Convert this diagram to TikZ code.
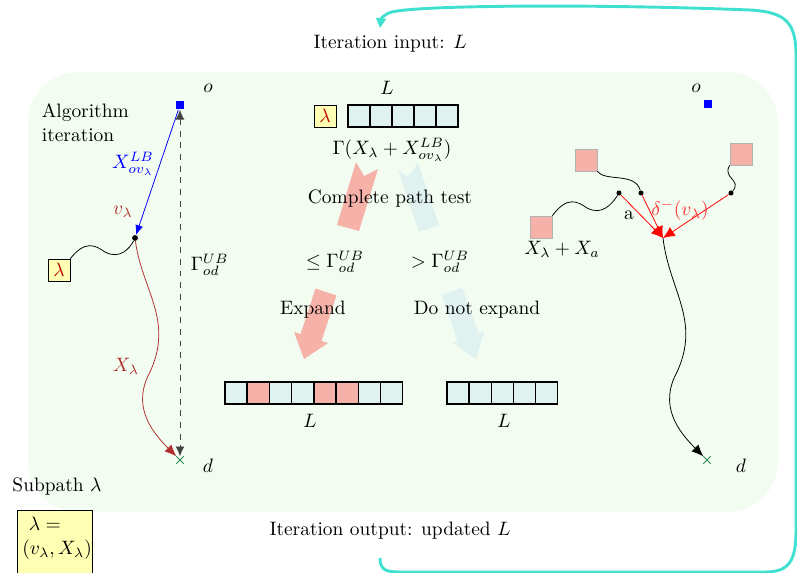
\documentclass[tikz,border=0pt]{standalone}
\usepackage{tikz}
\usetikzlibrary{positioning, shapes.misc, arrows.meta, calc}
\usepackage{amsmath}
\usepackage{xcolor}
\definecolor{itbg}{HTML}{F2FCF0}
\definecolor{itcold}{HTML}{DFF2F0}
\definecolor{ithot}{HTML}{F6B2A9}
\definecolor{ityellow}{HTML}{FFFFB3}
\definecolor{itbrick}{HTML}{B03030}
\definecolor{itloop}{HTML}{40E0D0}
\definecolor{itdash}{HTML}{444444}
\definecolor{itcross}{HTML}{2E8B57}
\begin{document}
\begin{tikzpicture}[x=0.515pt, y=-0.515pt,
    lbox/.style={draw, fill=ityellow, minimum size=11.3pt, inner sep=0pt, text=red!75!black},
    cell/.style={draw, line width=0.6pt, minimum size=11.3pt, inner sep=0pt},
    subp/.style={draw=gray!60, fill=ithot, minimum size=11.3pt, inner sep=0pt},
    vdot/.style={circle, fill, inner sep=0pt, minimum size=3pt},
    osq/.style={fill=blue, inner sep=0pt, minimum size=4.6pt},
    dcross/.style={cross out, draw=itcross, inner sep=0pt, minimum size=3.4pt}]
  \useasboundingbox (0,0) rectangle (797,573);
  \fill[itbg, rounded corners=26pt] (28,72) rectangle (778,512);

  % feedback loop of the iteration
  \coordinate (loopstart) at (380,558);
  \coordinate (loopend) at (380,28);
  \draw[itloop, line width=1.5pt, -{Triangle[length=5pt,width=5pt]}] (loopstart)
    .. controls (380,570) and (386,572) .. (400,572) -- (765,572)
    .. controls (790,572) and (796,560) .. (796,530) -- (796,55)
    .. controls (796,22) and (785,12) .. (750,10)
    .. controls (600,4) and (420,5) .. (392,12)
    .. controls (384,14) and (381,19) .. (loopend);
  \node (itin) at (390,44) {Iteration input: $L$};
  \node (itout) at (390,531) {Iteration output: updated $L$};

  % left: one subpath
  \node[anchor=north west, align=left] (algo) at (35,97) {Algorithm\\iteration};
  \node[osq] (oleft) at (180,105) {};
  \node (olabl) at (208,88) {$o$};
  \node[dcross] (dleft) at (180,460) {};
  \node (dlabl) at (208,466) {$d$};
  \node[vdot] (vlam) at (135,238) {};
  \node[lbox] (lamleft) at (59,270) {$\lambda$};
  \draw[itdash, dashed, {Latex[length=5pt,width=4.5pt]}-{Latex[length=5pt,width=4.5pt]}] (oleft) -- (dleft);
  \node[anchor=west] (gub) at (184,265) {$\Gamma^{UB}_{od}$};
  \draw[blue, -{Latex[length=5pt,width=4pt]}] (oleft) -- (vlam);
  \node[text=blue] (xlb) at (133,164) {$X^{LB}_{ov_\lambda}$};
  \node[text=itbrick] (vlab) at (123,212) {$v_\lambda$};
  \draw (lamleft.north east) .. controls (85,240) and (95,245) .. (105,252)
    .. controls (120,260) and (130,248) .. (vlam);
  \draw[itbrick, -{Latex[length=6pt,width=5pt]}] (vlam) .. controls (142,290) and (174,320) .. (150,372)
    .. controls (132,405) and (150,430) .. (dleft);
  \node[text=itbrick] (xlam) at (126,366) {$X_\lambda$};

  \node (subpath) at (57,487) {Subpath $\lambda$};
  \draw[fill=ityellow] (17,510) rectangle (92,585);
  \node[anchor=north west, align=left, inner sep=1pt] (subdef) at (20,515) {\ $\lambda=$\\$(v_\lambda,X_\lambda)$};

  % middle: the test on the list
  \node[lbox] (lamtop) at (325,116) {$\lambda$};
  \foreach \i in {1,...,5}
    \node[cell, fill=itcold] (in\i) at ({337+22*\i},116) {};
  \node (ltop) at (387,88) {$L$};
  \node (gamma) at (392,150) {$\Gamma(X_\lambda+X^{LB}_{ov_\lambda})$};
  \fill[ithot] (356,162) -- (364,176) -- (378,169) -- (359,231) -- (337,225) -- cycle;
  \fill[itcold] (398,170) -- (408,177) -- (418,163) -- (439,225) -- (419,232) -- cycle;
  \fill[ithot] (315.5,288.6) -- (336.5,295.4) -- (321.5,341) -- (328,343) -- (304,359)
    -- (294,332) -- (300.5,334.2) -- cycle;
  \fill[itcold] (441.6,295.2) -- (462.4,287.8) -- (478.5,333) -- (484.1,331) -- (476,359)
    -- (452.1,342.4) -- (457.7,340.4) -- cycle;
  \node (cpt) at (390,199) {Complete path test};
  \node (leq) at (335,262) {$\leq\Gamma^{UB}_{od}$};
  \node (gtr) at (440,262) {$>\Gamma^{UB}_{od}$};
  \node (expand) at (313,310) {Expand};
  \node (noexp) at (477,310) {Do not expand};
  \foreach \c [count=\i] in {itcold,ithot,itcold,itcold,ithot,ithot,itcold,itcold}
    \node[cell, fill=\c] (out\i) at ({236+22.25*(\i-1)},393) {};
  \node (lout) at (310,421) {$L$};
  \foreach \i in {1,...,5}
    \node[cell, fill=itcold] (keep\i) at ({458+22.2*(\i-1)},393) {};
  \node (lkeep) at (504,421) {$L$};

  % right: extending the subpath
  \node[osq, minimum size=4pt] (oright) at (708,104) {};
  \node (orlabl) at (696,88) {$o$};
  \node[dcross] (dright) at (707,460) {};
  \node (drlabl) at (741,466) {$d$};
  \node[subp] (pa) at (541,227) {};
  \node[subp] (pb) at (586,160) {};
  \node[subp] (pc) at (741,154) {};
  \node[vdot, minimum size=2.6pt] (va) at (619,193) {};
  \node[vdot, minimum size=2.6pt] (vb) at (641,193) {};
  \node[vdot, minimum size=2.6pt] (vc) at (731,193) {};
  \coordinate (vjoin) at (663,238);
  \draw (pa.north east) .. controls (567,196) and (577,201) .. (587,208)
    .. controls (602,216) and (612,204) .. (va);
  \draw (pb.south east) .. controls (605,182) and (635,172) .. (vb);
  \draw (pc.south west) .. controls (722,178) and (742,180) .. (vc);
  \foreach \v in {va,vb,vc}
    \draw[red, -{Latex[length=6pt,width=5.5pt]}] (\v) -- (vjoin);
  \node (alab) at (629,215) {a};
  \node[text=red!80] (dellab) at (680,210) {$\delta^-(v_\lambda)$};
  \node (xalab) at (562,249) {$X_\lambda+X_a$};
  \draw[-{Latex[length=6pt,width=5pt]}] (vjoin) .. controls (669,290) and (701,320) .. (677,372)
    .. controls (659,405) and (677,430) .. (dright);
\end{tikzpicture}
\end{document}
